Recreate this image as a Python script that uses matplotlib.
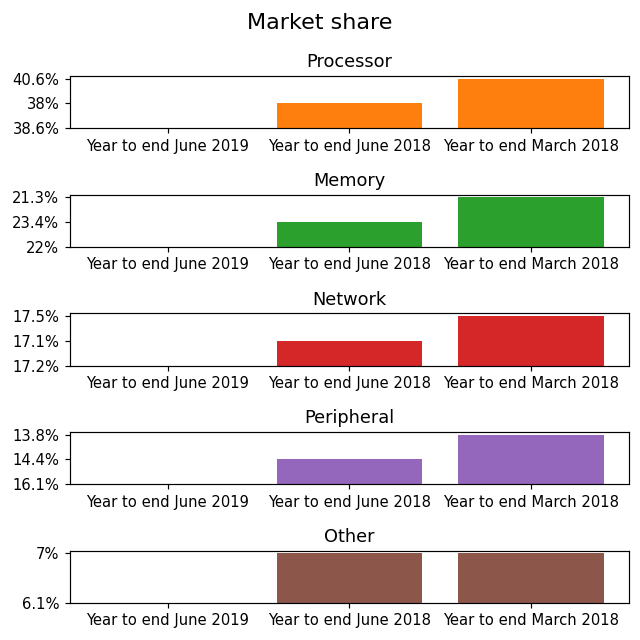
import matplotlib
matplotlib.use('Agg')
import matplotlib.pyplot as plt

periods = ['Year to end June 2019', 'Year to end June 2018', 'Year to end March 2018']

# values come in as text, so matplotlib puts them on a categorical y axis
processor = ['38.6%', '38%', '40.6%']
memory = ['22%', '23.4%', '21.3%']
network = ['17.2%', '17.1%', '17.5%']
peripheral = ['16.1%', '14.4%', '13.8%']
other = ['6.1%', '7%', '7%']

segments = ['Processor', 'Memory', 'Network', 'Peripheral', 'Other']
series = [processor, memory, network, peripheral, other]
colors = ['tab:orange', 'tab:green', 'tab:red', 'tab:purple', 'tab:brown']

fig, axes = plt.subplots(5, 1, figsize=(6, 6), dpi=640 / 6)
fig.suptitle('Market share', fontsize=15)

for ax, name, vals, col in zip(axes, segments, series, colors):
    ax.bar(periods, vals, color=col)
    ax.set_title(name)

fig.subplots_adjust(left=0.109, right=0.983, top=0.881, bottom=0.058, hspace=1.28)
plt.savefig('out.png', dpi=640 / 6)
